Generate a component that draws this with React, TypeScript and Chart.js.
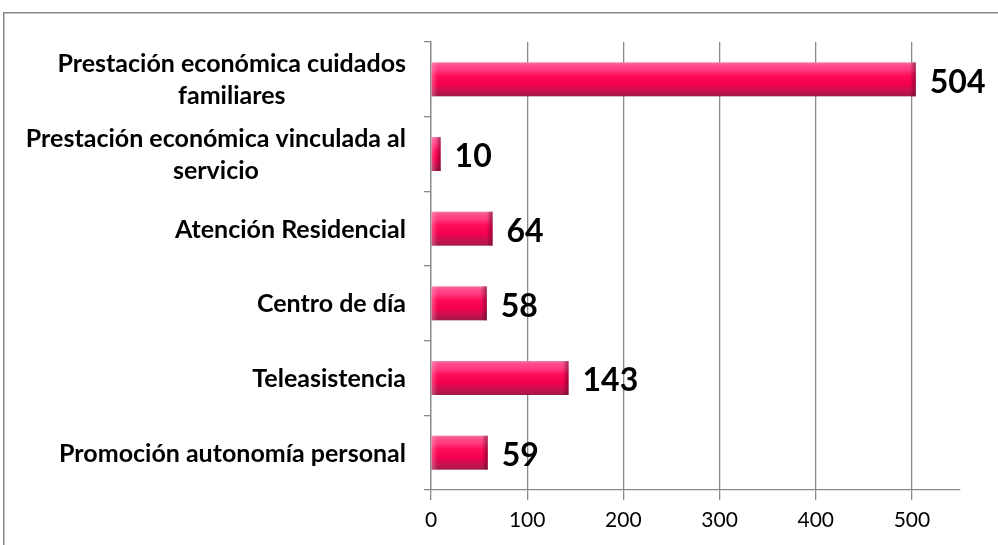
import React, { useEffect, useRef } from "react";
import { Chart, registerables } from "chart.js";

Chart.register(...registerables);

const categories: string[][] = [
  ["Prestación económica cuidados", "familiares"],
  ["Prestación económica vinculada al", "servicio"],
  ["Atención Residencial"],
  ["Centro de día"],
  ["Teleasistencia"],
  ["Promoción autonomía personal"],
];
const values: number[] = [504, 10, 64, 58, 143, 59];
const xTicks: number[] = [0, 100, 200, 300, 400, 500];
const xMax = 550;

const FONT = "Lato, 'Open Sans', sans-serif";
const GRAY = "#898989";

const framePlugin = {
  id: "frame",
  beforeDraw(chart: any) {
    const ctx = chart.ctx;
    ctx.save();
    ctx.fillStyle = "#ffffff";
    ctx.fillRect(0, 0, chart.width, chart.height);
    ctx.strokeStyle = GRAY;
    ctx.lineWidth = 1.5;
    ctx.beginPath();
    ctx.moveTo(3.75, chart.height + 5);
    ctx.lineTo(3.75, 12.75);
    ctx.lineTo(chart.width + 5, 12.75);
    ctx.stroke();
    ctx.restore();
  },
};

const barsPlugin = {
  id: "bars3d",
  afterDatasetsDraw(chart: any) {
    const ctx = chart.ctx;
    const meta = chart.getDatasetMeta(0);
    ctx.save();
    meta.data.forEach((el: any, i: number) => {
      const { x, y, base, height } = el.getProps(["x", "y", "base", "height"], true);
      const left = Math.min(x, base);
      const right = Math.max(x, base);
      const top = y - height / 2;
      const w = right - left;
      const g = ctx.createLinearGradient(0, top, 0, top + height);
      g.addColorStop(0, "#f07aa6");
      g.addColorStop(0.08, "#ff4d8d");
      g.addColorStop(0.22, "#ff3a80");
      g.addColorStop(0.4, "#ff0d5a");
      g.addColorStop(0.65, "#f2004e");
      g.addColorStop(0.82, "#cc1050");
      g.addColorStop(0.94, "#b3174a");
      g.addColorStop(1, "#9c1442");
      ctx.fillStyle = g;
      ctx.fillRect(left, top, w, height);
      const ew = Math.min(6, w / 2);
      const gr = ctx.createLinearGradient(right - ew, 0, right, 0);
      gr.addColorStop(0, "rgba(90,0,30,0)");
      gr.addColorStop(1, "rgba(90,0,30,0.55)");
      ctx.fillStyle = gr;
      ctx.fillRect(right - ew, top, ew, height);
      const gl = ctx.createLinearGradient(left, 0, left + ew, 0);
      gl.addColorStop(0, "rgba(255,200,220,0.35)");
      gl.addColorStop(1, "rgba(255,200,220,0)");
      ctx.fillStyle = gl;
      ctx.fillRect(left, top, ew, height);

      ctx.fillStyle = "#000000";
      ctx.font = `bold 32px ${FONT}`;
      ctx.textAlign = "left";
      ctx.textBaseline = "middle";
      ctx.fillText(String(values[i]), right + 14, y + 3);
    });

    // category labels
    const yScale = chart.scales.y;
    ctx.font = `bold 25px ${FONT}`;
    ctx.fillStyle = "#000000";
    ctx.textBaseline = "middle";
    ctx.textAlign = "center";
    const rightEdge = chart.chartArea.left - 25;
    categories.forEach((lines, i) => {
      const cy = yScale.getPixelForTick(i) + 1;
      const widths = lines.map((l) => ctx.measureText(l).width);
      const maxW = Math.max(...widths);
      const cx = rightEdge - maxW / 2;
      const lh = 32;
      const startY = cy - ((lines.length - 1) * lh) / 2;
      lines.forEach((l, j) => ctx.fillText(l, cx, startY + j * lh));
    });
    ctx.restore();
  },
};

export default function App() {
  const ref = useRef<HTMLCanvasElement | null>(null);
  useEffect(() => {
    if (!ref.current) return;
    const chart = new Chart(ref.current, {
      type: "bar",
      data: {
        labels: categories.map((c) => c.join(" ")),
        datasets: [
          {
            data: values,
            backgroundColor: "rgba(0,0,0,0)",
            borderWidth: 0,
            barPercentage: 0.455,
            categoryPercentage: 1,
          },
        ],
      },
      options: {
        indexAxis: "y",
        animation: false,
        responsive: false,
        devicePixelRatio: 1,
        layout: { padding: { top: 42, right: 38, left: 0, bottom: 0 } },
        plugins: { legend: { display: false }, tooltip: { enabled: false } },
        scales: {
          x: {
            min: 0,
            max: xMax,
            afterBuildTicks: (scale: any) => {
              scale.ticks = xTicks.map((v) => ({ value: v }));
            },
            afterFit: (scale: any) => {
              scale.height = 55;
            },
            grid: { color: GRAY, lineWidth: 1.3, tickLength: 10, drawOnChartArea: true },
            border: { color: GRAY, width: 1.3 },
            ticks: {
              color: "#000000",
              font: { family: FONT, size: 21 },
              padding: 8,
              maxRotation: 0,
            },
          },
          y: {
            afterFit: (scale: any) => {
              scale.width = 431;
            },
            grid: { color: GRAY, lineWidth: 1.3, tickLength: 7, drawOnChartArea: false, offset: true },
            border: { color: GRAY, width: 1.3 },
            ticks: { display: false },
          },
        },
      },
      plugins: [framePlugin, barsPlugin],
    });
    return () => chart.destroy();
  }, []);
  return (
    <div style={{ position: "fixed", left: 0, top: 0, width: 998, height: 545 }}>
      <canvas ref={ref} width={998} height={545} />
    </div>
  );
}
